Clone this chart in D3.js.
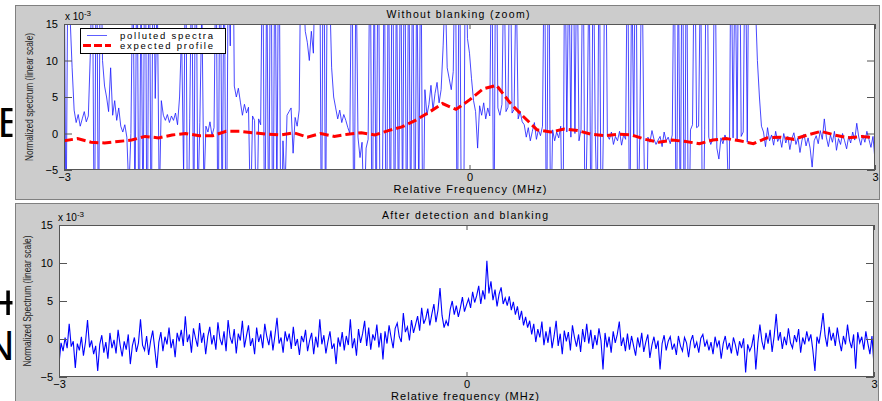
<!DOCTYPE html>
<html>
<head>
<meta charset="utf-8">
<script src="https://cdn.jsdelivr.net/npm/d3@7"></script>
<style>
  body { margin: 0; background: #fff; }
  svg { display: block; font-family: "Liberation Sans", Arial, sans-serif; }
</style>
</head>
<body>
<svg id="chart" width="882" height="401"></svg>
<script>
// ---- data (spectrum values in units of 1e-3) ----
const freqDomain = [-3, 3];            // MHz
const freqTicks = [-3, 0, 3];
const specTicks = [-5, 0, 5, 10, 15];
const specDomain = [-5, 15];

// raw spectrum with interference (uniform frequency grid over freqDomain)
const pollutedSpectrum = [
  30, -15, 28,
  16, 9, 3.2, 1.5, 2.6, 1.0,
  2.0, 3.0, 1.6, 2.4,
  11, 25,
  -20, 35, -18, 30,
  10, 6.5, 5.0,
  3.0, 9.0, 2.5, 4.5, 1.8, 3.5,
  1.0, 0.2, 1.2, -0.5,
  -8, 0.0,
  25, -12, 30, -20, 22, -15, 40, -25, 35,
  -18, 30, 4.8,
  20, -10, 4.5, 2.5, 1.8, 2.6,
  1.5, 2.4, 1.8, 2.8, 1.2,
  5.0, 14, -6,
  30, -20, 2.0, 25, -15, 35, -10,
  1.5, 18, -8, 1.0,
  0.2, 1.6, -0.3, 0.8,
  28, -20, 35, -15, 30, -25,
  25, 12, 40, 6.5,
  5.0, 6.2, 4.3, 2.5,
  4.0, 2.8, 3.6, -12, 2.4,
  1.8, -15, 2.0, 1.2,
  30, -20, 25, -18, 40, -25, 30, -10, 35, -20,
  -1.0, -8, 2.5, 3.0,
  3.5, -2.7, 2.2, 1.0, 3.2,
  30, 20, 14, 12.5,
  10, 14, 11, 25, 30,
  35, -20, 40, -15, 30,
  20, 9, 5,
  3.5, 2.0, 3.2, 1.5, 2.6, 1.8, 0.8,
  0.0, 30, -20,
  25, -0.5, -3.3, -1.2, -12,
  -2.0, -0.8, 30, -20,
  25, -15, 35, -20, -10, 28, -25, 30,
  -18, 40, -20, 25, -15, 30, -12, 35, -20, 28, -15,
  30, -20, 25, -10,
  30, -18, 6.0, 2.5, 4.0,
  6.6, 3.2, 5.5, 7.0,
  4.2, 6.0, 12, 20,
  9.0, 7.5, 6.0, 8.5,
  30, -20, 35, -15, -20,
  30, 13, 11, 7.5,
  4.5, 3.0, -2.0, 3.8, 2.5, 4.2,
  2.0, 3.5, 2.4,
  30, -20, 35, 3.5,
  2.5, 4.0, 25, 3.0, 3.6, 30, 2.8, 3.3,
  22, 2.0, 3.0, 1.6,
  1.2, -0.5, 0.8, -1.0, 0.3, 1.5, -0.8, 0.5, -0.3, 1.0,
  30, -20, 35, -15,
  0.5, -1.0, 0.2, -0.6, 1.0, -20,
  30, 0.2, 25, -0.5, 35, 0.0, 28, -1.0, 0.5,
  30, -15, 0.2,
  25, -20, 30, 0.5, -12, 30, -18, 0.0, 35, -0.3,
  -0.8, 0.2, -1.5, -0.4, -1.0, 0.3, -1.6, -0.2, -0.8,
  30, -20, 25, -0.5, 35, -15, 0.0, 28, -1.0, -20,
  -0.5, -1.2, 0.4, -0.8, -1.5, -0.9, -0.4, -1.8, 0.2, -1.0, -0.5, -1.4, -0.2,
  30, -20, 25, -15, 40, -25, 35, -20, 0.5, 1.2, 30, 0.8,
  1.0, 25, -20, 0.5, 35, -0.5, -1.5,
  -0.8, 30, -2.0, -3.5, -0.6, -1.4, -0.2, -1.0, -12,
  30, -0.6, 25, -1.0, 40, -0.4, 0.2,
  30, -1.2, 35, 25, 30, 18, 10, 5, 1.0,
  0.2, -1.8, 0.8, -1.0, -0.2, -1.6, 0.3, -1.1, -0.5, -1.9,
  0.0, -1.3, -0.4, -2.2, -0.7, 0.1, -1.5, -0.6, -2.6, -0.9,
  -0.1, -1.7, -0.6, -2.0, -4.6, -1.0, -0.3, -1.4, 0.4, -0.8,
  2.0, -0.5, -1.8, -0.2, -1.2, 0.3, -2.3, -0.7, -1.5, 0.0,
  -1.0, -2.1, -0.4, -1.3, 0.2, -0.9, 1.4, -0.5, -1.6, -0.2,
  -1.2, 0.3, -0.8, -1.9, -0.4, -3.7
];

// expected line profile, sampled every 0.1 MHz over freqDomain
const expectedProfile = [
  -1.0, -0.7, -1.2, -1.3, -1.1, -0.9, -0.4, -0.6, -0.2, 0.0,
  -0.3, -0.3, 0.3, 0.3, 0.1, -0.1, -0.2, 0.1, -0.5, 0.0,
  -0.4, -0.1, 0.1, -0.2, 0.4, 0.9, 1.8, 2.9, 4.1, 3.3,
  4.6, 6.1, 6.6, 4.2, 2.3, 0.5, 0.2, 0.6, 0.4, -0.1,
  -0.3, -0.1, -0.2, -0.8, -1.2, -0.9, -1.1, -1.4, -0.9, -0.7,
  -1.0, -1.4, -0.6, -0.5, -0.8, -0.2, 0.3, -0.2, -0.6, -0.4,
  -0.6
];

// spectrum after detection and blanking (uniform frequency grid over freqDomain)
const blankedSpectrum = [
  -3.3, -0.5, -1.6, 0.2, -1.2, 2.0, -1.0, -0.3, -3.8, -0.6, -1.5, 0.3, -2.2, -0.4, 2.5, -1.1, -0.2, -2.0, -0.9, -4.2,
  -0.7, 0.5, -1.8, -0.4, -2.6, 0.8, -1.2, -0.1, -1.9, 1.2, -0.8, -2.3, -0.3, -1.4, 0.6, -3.3, -0.9, 0.2, -1.7, -0.5,
  2.6, -0.8, -1.5, 0.4, -2.1, -0.2, 1.1, -1.3, -3.8, -0.4, 0.9, -1.6, 0.3, -0.7, 1.5, -1.2, 0.0, -2.4, 0.8, -0.3,
  1.2, -0.9, 3.0, -0.4, 0.6, -1.8, 1.4, 0.1, -1.0, 2.1, -0.5, 0.8, -2.0, 0.3, 1.6, -0.7, 0.5, -1.4, 2.2, 0.0,
  -0.8, 1.0, -1.6, 2.5, 0.2, -0.6, 1.3, -1.9, 0.7, -0.2, 2.4, -1.1, 0.4, 1.8, -0.9, 0.1, -2.0, 1.5, -0.4, 0.6,
  -1.2, 2.0, 0.3, -0.8, 1.1, -1.5, 0.5, 2.8, -0.6, 0.2, -1.8, 1.0, -0.3, 0.7, -1.3, 1.6, -0.9, 0.0, -2.1, 0.4,
  -0.4, 1.2, -1.6, -0.2, 0.8, -2.0, 0.3, -1.1, 2.6, -0.7, 0.5, -1.9, -0.3, 1.0, -1.3, -0.6, -3.3, 0.2, -1.0, 0.9,
  -1.5, 0.4, -0.8, 2.6, -1.2, 0.1, -2.2, 1.3, -0.5, 0.7, 2.4, -0.9, 1.5, -1.4, 0.6, -0.2, 1.9, -1.1, 0.8, -2.7,
  1.0, -0.6, 1.8, 0.2, -1.2, 1.4, 2.1, 0.3, -0.4, 3.4, 0.9, 1.6, -0.2, 2.5, 0.8, 1.9, 3.0, 1.1, 4.1, 2.0,
  2.7, 4.0, 1.8, 3.3, 4.6, 2.2, 3.8, 6.7, 3.1, 1.5, 2.4, 1.7, 3.9, 5.0, 3.2, 4.4, 2.9, 4.1, 5.5, 3.6,
  4.5, 5.3, 4.1, 6.2, 4.8, 5.7, 7.0, 4.6, 6.4, 5.2, 10.3, 6.0, 7.6, 5.1, 6.5, 4.3, 5.9, 6.8, 4.6, 5.4,
  4.4, 5.6, 3.8, 4.9, 3.2, 4.3, 2.5, 3.7, 1.8, 2.9, 1.5, 2.4, 0.6, 2.0, -0.4, 1.3, 0.2, 2.3, -0.8, 1.0,
  -0.5, 1.6, -1.2, 0.4, 2.4, -0.9, 0.7, -2.0, 1.1, -0.3, 0.9, -1.5, 1.8, 0.2, -1.0, 0.6, -1.7, 1.3, -0.4, 2.0,
  -0.6, 1.2, -1.3, 0.5, -0.8, 1.4, -0.2, -4.0, 0.8, -1.1, 0.3, -1.8, 1.0, -0.5, 0.6, 2.3, -0.9, 0.2, -1.6, 0.7,
  -1.4, 0.4, -0.9, -2.2, 0.2, -1.1, 0.8, -1.7, -0.4, 0.6, -2.5, -0.8, 0.3, -1.3, -0.2, -4.0, -0.6, 0.5, -1.5, -0.3,
  0.3, -1.4, -0.6, -2.1, 0.4, -0.9, -1.6, 0.2, -0.5, -2.4, -0.3, 0.5, -1.2, -0.4, -1.8, 0.1, 0.6, -1.0, -0.2, -1.5,
  -0.4, -2.0, 0.3, -1.0, -0.2, -2.6, -0.6, 0.4, -1.4, -0.5, -1.9, 0.2, -0.8, -2.2, -0.3, -1.2, 0.1, -4.4, -0.7, -1.6,
  -0.9, 0.6, -4.0, -0.5, 1.9, -0.3, -1.4, 0.8, -0.6, 1.2, -1.7, 0.4, 3.3, -0.2, 0.9, -1.3, 0.3, -0.8, 1.4, -0.5,
  -1.2, 0.5, -0.4, 1.3, -1.8, 0.2, -0.7, 1.0, -0.3, 0.6, -1.5, -4.2, 0.3, -0.6, 1.2, 3.4, 0.4, -1.0, 1.6, -0.2,
  0.8, -0.9, 1.5, -0.3, -1.6, 0.4, -0.7, 1.9, -0.2, -1.2, 0.6, -3.9, 0.9, -0.5, 0.3, -1.4, 1.0, -0.6, -2.0, 0.4, -3.5
];

// ---- helpers ----
// pair each value with its frequency on a uniform grid spanning freqDomain
function onGrid(values) {
  const step = (freqDomain[1] - freqDomain[0]) / (values.length - 1);
  return values.map((v, i) => ({ f: freqDomain[0] + i * step, v }));
}

const svg = d3.select("#chart");
const FONT = "'Liberation Sans', Arial, sans-serif";
const FIG_BG = "#cccccc";
const AXIS_COL = "#555555";

// slide lettering peeking out at the left edge
const slide = svg.append("g").attr("fill", "#000").attr("font-family", FONT);
slide.append("text").attr("x", -2.3).attr("y", 137).attr("font-size", 42).text("E");
slide.append("text").attr("x", -6.5).attr("y", 319).attr("font-size", 50).text("+");
slide.append("text").attr("x", -16).attr("y", 360).attr("font-size", 42).text("N");
svg.append("rect").attr("x", 12.5).attr("y", 0).attr("width", 882).attr("height", 401).attr("fill", "#fff");

const panels = [
  {
    id: "top",
    fig: { x: 15.5, y: 5.5, w: 864, h: 192 },
    plot: { l: 64, t: 24, r: 875, b: 170 },
    title: "Without blanking (zoom)", titleY: 14, titleX: 458, titleLen: 143,
    xlabel: "Relative Frequency (MHz)", xlabelY: 189, xlabelX: 470, xlabelLen: 153,
    ylabel: "Normalized spectrum (linear scale)", ylabelX: 29, ylabelLen: 128,
    expX: 65, expY: 16, legend: true
  },
  {
    id: "bottom",
    fig: { x: 15.5, y: 203.5, w: 863, h: 198 },
    plot: { l: 59, t: 225, r: 874, b: 377 },
    title: "After detection and blanking", titleY: 215, titleX: 465, titleLen: 166,
    xlabel: "Relative frequency (MHz)", xlabelY: 396, xlabelX: 465, xlabelLen: 148,
    ylabel: "Normalized Spectrum (linear scale)", ylabelX: 27, ylabelLen: 131,
    expX: 58, expY: 217, legend: false
  }
];

panels.forEach(p => {
  const g = svg.append("g");
  // figure background
  g.append("rect")
    .attr("x", p.fig.x).attr("y", p.fig.y).attr("width", p.fig.w).attr("height", p.fig.h + 2)
    .attr("fill", FIG_BG).attr("stroke", "#808080").attr("stroke-width", 1);

  const x = d3.scaleLinear().domain(freqDomain).range([p.plot.l, p.plot.r]);
  const y = d3.scaleLinear().domain(specDomain).range([p.plot.b, p.plot.t]);

  g.append("rect")
    .attr("x", p.plot.l).attr("y", p.plot.t)
    .attr("width", p.plot.r - p.plot.l).attr("height", p.plot.b - p.plot.t)
    .attr("fill", "#fff");

  const clipId = "clip-" + p.id;
  svg.append("clipPath").attr("id", clipId).append("rect")
    .attr("x", p.plot.l).attr("y", p.plot.t)
    .attr("width", p.plot.r - p.plot.l).attr("height", p.plot.b - p.plot.t);

  const line = d3.line().x(d => x(d.f)).y(d => y(d.v));
  const marks = g.append("g").attr("clip-path", `url(#${clipId})`);

  if (p.id === "top") {
    marks.append("path").datum(onGrid(pollutedSpectrum))
      .attr("d", line).attr("fill", "none")
      .attr("stroke", "#1a1aff").attr("stroke-width", 1).attr("stroke-opacity", 0.8);
    marks.append("path").datum(onGrid(expectedProfile))
      .attr("d", line).attr("fill", "none")
      .attr("stroke", "#ff0000").attr("stroke-width", 3)
      .attr("stroke-dasharray", "9,4");
  } else {
    marks.append("path").datum(onGrid(blankedSpectrum))
      .attr("d", line).attr("fill", "none")
      .attr("stroke", "#0000ff").attr("stroke-width", 1.1);
  }

  // axes with inward ticks
  const styleAxis = sel => {
    sel.select(".domain").remove();
    sel.selectAll(".tick line").attr("stroke", AXIS_COL);
    sel.selectAll(".tick text").attr("fill", "#000").attr("font-family", FONT).attr("font-size", 11);
  };
  g.append("g").attr("transform", `translate(0,${p.plot.b})`)
    .call(d3.axisBottom(x).tickValues(freqTicks).tickSizeInner(-5).tickSizeOuter(0).tickPadding(3).tickFormat(d3.format("d")))
    .call(styleAxis);
  g.append("g").attr("transform", `translate(0,${p.plot.t})`)
    .call(d3.axisTop(x).tickValues(freqTicks).tickSizeInner(-5).tickSizeOuter(0).tickFormat(""))
    .call(styleAxis);
  g.append("g").attr("transform", `translate(${p.plot.l},0)`)
    .call(d3.axisLeft(y).tickValues(specTicks).tickSizeInner(-8).tickSizeOuter(0).tickPadding(6).tickFormat(d3.format("d")))
    .call(styleAxis);
  g.append("g").attr("transform", `translate(${p.plot.r},0)`)
    .call(d3.axisRight(y).tickValues(specTicks).tickSizeInner(-8).tickSizeOuter(0).tickFormat(""))
    .call(styleAxis);

  // plot frame
  g.append("rect")
    .attr("x", p.plot.l + 0.5).attr("y", p.plot.t + 0.5)
    .attr("width", p.plot.r - p.plot.l - 1).attr("height", p.plot.b - p.plot.t - 1)
    .attr("fill", "none").attr("stroke", AXIS_COL).attr("stroke-width", 1);

  // titles and labels
  g.append("text").attr("x", p.titleX).attr("y", p.titleY).attr("dy", "0.35em")
    .attr("text-anchor", "middle").attr("font-size", 10.5)
    .attr("textLength", p.titleLen).attr("lengthAdjust", "spacing")
    .text(p.title);
  g.append("text").attr("x", p.xlabelX).attr("y", p.xlabelY).attr("dy", "0.35em")
    .attr("text-anchor", "middle").attr("font-size", 11)
    .attr("textLength", p.xlabelLen).attr("lengthAdjust", "spacing")
    .text(p.xlabel);
  const yMid = (p.plot.t + p.plot.b) / 2;
  g.append("text")
    .attr("transform", `translate(${p.ylabelX},${yMid}) rotate(-90)`)
    .attr("dy", "0.35em").attr("text-anchor", "middle").attr("font-size", 10)
    .attr("textLength", p.ylabelLen).attr("lengthAdjust", "spacingAndGlyphs")
    .attr("fill", "#222")
    .text(p.ylabel);

  // exponent marker
  const ex = g.append("text").attr("x", p.expX).attr("y", p.expY).attr("dy", "0.35em")
    .attr("font-size", 10);
  ex.append("tspan").text("x 10");
  ex.append("tspan").attr("dy", "-0.45em").attr("font-size", 8).text("-3");

  if (p.legend) {
    const lg = g.append("g");
    lg.append("rect").attr("x", 80.5).attr("y", 28.5).attr("width", 145).attr("height", 25)
      .attr("fill", "#fff").attr("stroke", "#000").attr("stroke-width", 1);
    lg.append("line").attr("x1", 87).attr("x2", 107).attr("y1", 35.5).attr("y2", 35.5)
      .attr("stroke", "#1a1aff").attr("stroke-opacity", 0.7).attr("stroke-width", 1);
    lg.append("line").attr("x1", 83).attr("x2", 111).attr("y1", 45.5).attr("y2", 45.5)
      .attr("stroke", "#ff0000").attr("stroke-width", 3).attr("stroke-dasharray", "8,3");
    lg.append("text").attr("x", 120).attr("y", 35.5).attr("dy", "0.35em").attr("font-size", 9.5)
      .attr("textLength", 93).attr("lengthAdjust", "spacing").text("polluted spectra");
    lg.append("text").attr("x", 120).attr("y", 46).attr("dy", "0.35em").attr("font-size", 9.5)
      .attr("textLength", 93).attr("lengthAdjust", "spacing").text("expected profile");
  }
});
</script>
</body>
</html>
